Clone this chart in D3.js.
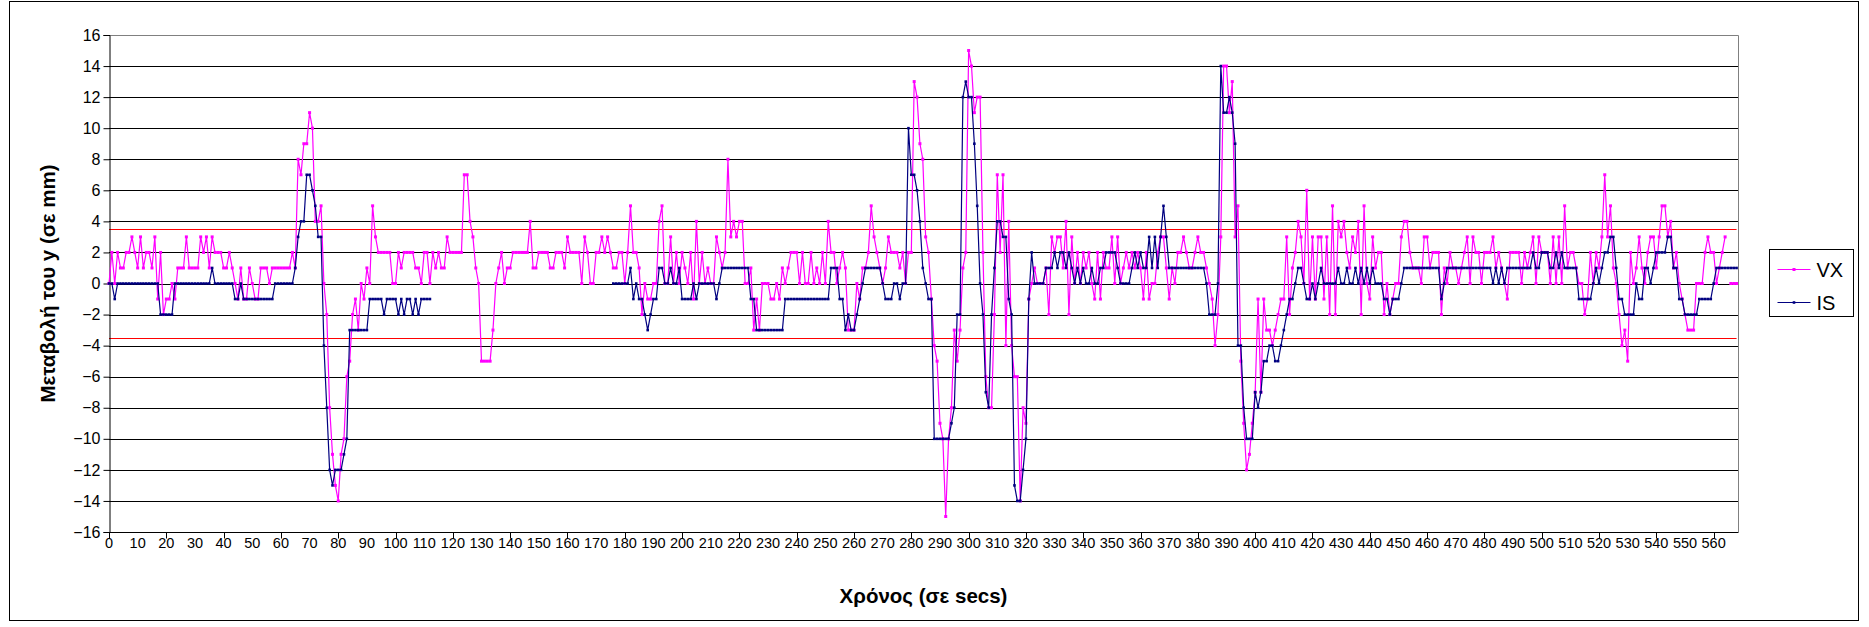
<!DOCTYPE html>
<html>
<head>
<meta charset="utf-8">
<script src="https://cdn.jsdelivr.net/npm/d3@7"></script>
<style>
  body { margin: 0; background: #fff; }
  svg { display: block; }
  text { font-family: "Liberation Sans", Arial, sans-serif; fill: #000; }
</style>
</head>
<body>
<svg id="chart" width="1869" height="627"></svg>
<script>
// Displacement in y (mm) sampled once per second, index = seconds
const seriesNames = ["VX", "IS"];

const vxValues = [
  0,2,0,2,1,1,2,2,3,2, 1,3,1,2,2,1,3,-1,2,-2,
  -1,-1,0,-1,1,1,1,3,1,1, 1,1,3,2,3,1,3,2,2,2,
  1,1,2,1,0,-1,1,-1,-1,1, 0,-1,-1,1,1,1,0,1,1,1,
  1,1,1,1,2,1,8,7,9,9, 11,10,4,4,5,0,-2,-8,-11,-13,
  -14,-11,-10,-6,-5,-2,-1,-3,0,-1, 1,0,5,3,2,2,2,2,2,0,
  0,2,1,2,2,2,2,1,1,0, 2,2,0,2,1,2,1,1,3,2,
  2,2,2,2,7,7,4,3,1,0, -5,-5,-5,-5,-3,0,1,2,0,1,
  1,2,2,2,2,2,2,4,1,1, 2,2,2,2,1,1,2,2,2,1,
  3,2,2,2,2,0,3,2,0,0, 2,2,3,2,3,2,1,1,2,2,
  0,2,5,2,2,1,-2,0,-1,-1, 0,0,4,5,0,0,3,0,2,0,
  2,1,0,2,-1,4,0,2,0,1, 0,0,3,2,1,2,8,3,4,3,
  4,4,0,0,1,-3,-1,-3,0,0, 0,-1,-1,0,-1,1,0,1,2,2,
  2,0,2,0,0,2,0,1,0,2, 0,4,2,2,0,1,2,1,-3,-3,
  -3,0,-1,1,1,2,5,3,2,1, 0,1,3,2,2,2,1,2,0,2,
  2,13,12,9,8,3,2,-1,-4,-5, -9,-10,-15,-10,-8,-3,-5,-3,1,2,
  15,14,11,12,12,2,-6,-8,-8,-2, 7,2,7,-4,4,-4,-6,-6,-14,-8,
  -9,-1,0,1,0,0,0,1,-2,3, 2,3,3,1,4,-2,3,0,2,0,
  2,1,2,0,-1,2,-1,2,1,1, 3,0,3,0,1,2,1,2,1,2,
  1,-1,2,-1,0,0,2,3,3,1, -1,1,0,2,2,3,2,1,1,2,
  3,2,2,1,0,-1,-4,-2,3,14, 14,11,13,3,5,-5,-9,-12,-11,-9,
  -7,-1,-7,-1,-3,-3,-4,-3,-2,-1, -1,3,-2,1,2,4,3,0,6,-1,
  3,-1,3,3,-1,3,-2,5,-2,4, 3,4,2,1,3,2,4,-2,5,0,
  -1,3,1,2,2,-2,0,-2,-1,0, 0,3,4,4,2,1,1,1,0,3,
  3,1,2,2,2,-2,1,0,2,1, 1,0,1,2,3,0,3,2,2,0,
  2,2,2,3,1,2,1,0,-1,2, 2,2,2,0,2,1,2,3,0,3,
  2,2,2,0,3,0,3,0,5,1, 2,2,1,0,0,-2,-1,2,0,2,
  1,3,7,3,5,1,0,-2,-4,-3, -5,2,0,1,3,1,0,2,3,3,
  1,3,5,5,3,4,1,2,0,-1, -2,-3,-3,-3,0,0,0,2,3,2,
  2,0,1,2,3,null,0,0,0
];

const isValues = [
  0,0,-1,0,0,0,0,0,0,0, 0,0,0,0,0,0,0,0,-2,-2,
  -2,-2,-2,0,0,0,0,0,0,0, 0,0,0,0,0,0,1,0,0,0,
  0,0,0,0,-1,-1,0,-1,-1,-1, -1,-1,-1,-1,-1,-1,-1,-1,0,0,
  0,0,0,0,0,1,3,4,4,7, 7,6,5,3,3,-4,-8,-12,-13,-12,
  -12,-12,-11,-10,-3,-3,-3,-3,-3,-3, -3,-1,-1,-1,-1,-1,-2,-1,-1,-1,
  -1,-2,-1,-2,-1,-1,-2,-1,-2,-1, -1,-1,-1,null,null,null,null,null,null,null,
  null,null,null,null,null,null,null,null,null,null, null,null,null,null,null,null,null,null,null,null,
  null,null,null,null,null,null,null,null,null,null, null,null,null,null,null,null,null,null,null,null,
  null,null,null,null,null,null,null,null,null,null, null,null,null,null,null,null,0,0,0,0,
  0,0,1,-1,0,-1,-1,-2,-3,-2, -1,-1,1,1,0,0,1,0,0,1,
  -1,-1,-1,-1,0,-1,0,0,0,0, 0,0,-1,0,1,1,1,1,1,1,
  1,1,1,1,-1,-1,-3,-3,-3,-3, -3,-3,-3,-3,-3,-3,-1,-1,-1,-1,
  -1,-1,-1,-1,-1,-1,-1,-1,-1,-1, -1,-1,1,1,1,-1,-1,-3,-2,-3,
  -3,-2,-1,0,1,1,1,1,1,1, 0,-1,-1,-1,0,0,-1,0,0,10,
  7,7,6,4,1,0,-1,-1,-10,-10, -10,-10,-10,-10,-9,-8,-2,-2,12,13,
  12,12,9,5,0,-2,-7,-8,-2,1, 4,4,3,3,-1,-2,-13,-14,-14,-12,
  -10,-1,2,0,0,0,0,1,1,1, 2,1,2,2,1,2,1,0,1,0,
  1,0,0,1,0,0,1,1,2,2, 2,2,1,0,0,0,0,1,2,1,
  2,1,1,3,1,3,1,3,5,3, 1,1,1,1,1,1,1,1,1,1,
  1,1,1,0,-2,-2,-2,0,14,11, 11,12,11,9,-4,-4,-8,-10,-10,-10,
  -7,-8,-7,-5,-5,-4,-4,-5,-5,-4, -3,-2,-1,-1,0,1,1,0,-1,-1,
  0,-1,0,1,0,0,0,0,0,1, 0,0,1,0,0,1,0,1,0,1,
  0,1,0,0,0,-1,-1,-2,-1,-1, -1,0,1,1,1,1,1,1,1,1,
  1,1,1,1,1,-1,0,1,1,1, 1,1,1,1,1,1,1,1,1,1,
  1,1,1,0,1,0,1,0,1,1, 1,1,1,1,1,1,1,2,1,1,
  2,2,2,1,1,2,1,2,1,1, 1,1,1,-1,-1,-1,-1,-1,0,1,
  0,1,2,2,3,3,1,-1,-1,-2, -2,-2,-2,0,-1,-1,1,1,0,1,
  2,2,2,2,3,3,1,1,-1,-1, -2,-2,-2,-2,-2,-1,-1,-1,-1,-1,
  0,1,1,1,1,1,1,1,1
];

// Tolerance band (mm)
const limitValues = [3.5, -3.5];
const limitSpan = [0, 568];

const yTickValues = [-16,-14,-12,-10,-8,-6,-4,-2,0,2,4,6,8,10,12,14,16];
const xLabelValues = [0,10,20,30,40,50,60,70,80,90,100,110,120,130,140,150,160,170,180,190,
  200,210,220,230,240,250,260,270,280,290,300,310,320,330,340,350,360,370,380,390,
  400,410,420,430,440,450,460,470,480,490,500,510,520,530,540,550,560];
const xTickMarks = [0,20,40,60,80,100,120,140,160,180,200,220,240,260,280,300,320,340,360,
  380,400,420,440,460,480,500,520,540,560];

const xTitle = "Χρόνος (σε secs)";
const yTitle = "Μεταβολή του y (σε mm)";

const series = [
  { name: seriesNames[0], values: vxValues, color: "#FF00FF", marker: 3 },
  { name: seriesNames[1], values: isValues, color: "#000080", marker: 2.6 }
];

const svg = d3.select("#chart");
const plotLeft = 109, plotRight = 1738, plotTop = 35, plotBottom = 532;

const x = d3.scaleLinear().domain([0, 568.5]).range([plotLeft, plotRight]);
const y = d3.scaleLinear().domain([-16, 16]).range([plotBottom, plotTop]);

// Outer chart frame
svg.append("rect")
  .attr("x", 9.5).attr("y", 1.5).attr("width", 1849).attr("height", 619)
  .attr("fill", "#fff").attr("stroke", "#000").attr("stroke-width", 1);

// Horizontal gridlines
svg.append("g")
  .selectAll("line")
  .data(yTickValues.filter(v => v > -16 && v < 16))
  .join("line")
  .attr("x1", plotLeft).attr("x2", plotRight)
  .attr("y1", d => Math.round(y(d)) + 0.5).attr("y2", d => Math.round(y(d)) + 0.5)
  .attr("stroke", "#000").attr("stroke-width", 1);

// Plot area border (top / right)
svg.append("path")
  .attr("d", `M${plotLeft},${plotTop + 0.5}H${plotRight + 0.5}V${plotBottom}`)
  .attr("fill", "none").attr("stroke", "#808080").attr("stroke-width", 1);

// Tolerance lines
svg.append("g")
  .selectAll("line")
  .data(limitValues)
  .join("line")
  .attr("x1", x(limitSpan[0])).attr("x2", x(limitSpan[1]))
  .attr("y1", d => Math.round(y(d)) + 0.5).attr("y2", d => Math.round(y(d)) + 0.5)
  .attr("stroke", "#FF0000").attr("stroke-width", 1);

// Y axis
const yAxis = d3.axisLeft(y).tickValues(yTickValues).tickSize(6).tickPadding(3);
const gy = svg.append("g").attr("transform", `translate(${plotLeft + 0.5},0)`).call(yAxis);
gy.select(".domain").attr("stroke", "#000");
gy.selectAll(".tick line").attr("stroke", "#000");
gy.selectAll(".tick text").attr("font-size", 16).attr("font-family", "Liberation Sans, Arial, sans-serif");

// X axis: marks every 20 s, labels every 10 s
const gx = svg.append("g").attr("transform", `translate(0,${plotBottom + 0.5})`);
gx.append("line").attr("x1", plotLeft).attr("x2", plotRight + 0.5).attr("stroke", "#000");
gx.selectAll(".mark").data(xTickMarks).join("line")
  .attr("class", "mark")
  .attr("x1", d => Math.round(x(d)) + 0.5).attr("x2", d => Math.round(x(d)) + 0.5)
  .attr("y1", 0).attr("y2", 6).attr("stroke", "#000");
gx.selectAll(".lbl").data(xLabelValues).join("text")
  .attr("class", "lbl")
  .attr("x", d => x(d)).attr("y", 15.5)
  .attr("text-anchor", "middle").attr("font-size", 14.5)
  .text(d => d);

// Series lines and markers
const line = d3.line()
  .defined(d => d.v !== null)
  .x(d => x(d.t)).y(d => y(d.v));

series.forEach(s => {
  const pts = s.values.map((v, t) => ({ t, v }));
  svg.append("path")
    .datum(pts)
    .attr("d", line)
    .attr("fill", "none").attr("stroke", s.color).attr("stroke-width", 1.2)
    .attr("stroke-linejoin", "round");
  svg.append("g")
    .selectAll("rect")
    .data(pts.filter(d => d.v !== null))
    .join("rect")
    .attr("x", d => x(d.t) - s.marker / 2).attr("y", d => y(d.v) - s.marker / 2)
    .attr("width", s.marker).attr("height", s.marker)
    .attr("fill", s.color);
});

// Axis titles
svg.append("text")
  .attr("x", (plotLeft + plotRight) / 2).attr("y", 603)
  .attr("text-anchor", "middle").attr("font-size", 20.5).attr("font-weight", "bold")
  .text(xTitle);
svg.append("text")
  .attr("transform", `translate(55,${(plotTop + plotBottom) / 2}) rotate(-90)`)
  .attr("text-anchor", "middle").attr("font-size", 20.5).attr("font-weight", "bold")
  .text(yTitle);

// Legend
const lg = svg.append("g").attr("transform", "translate(1769.5,249.5)");
lg.append("rect").attr("width", 84).attr("height", 67)
  .attr("fill", "#fff").attr("stroke", "#000").attr("stroke-width", 1);
series.forEach((s, i) => {
  const cy = 20 + i * 33;
  lg.append("line").attr("x1", 8).attr("x2", 41).attr("y1", cy).attr("y2", cy)
    .attr("stroke", s.color).attr("stroke-width", 1.2);
  lg.append("rect").attr("x", 24.5 - s.marker / 2).attr("y", cy - s.marker / 2)
    .attr("width", s.marker).attr("height", s.marker).attr("fill", s.color);
  lg.append("text").attr("x", 47).attr("y", cy).attr("dy", "0.35em")
    .attr("font-size", 20).text(s.name);
});
</script>
</body>
</html>
